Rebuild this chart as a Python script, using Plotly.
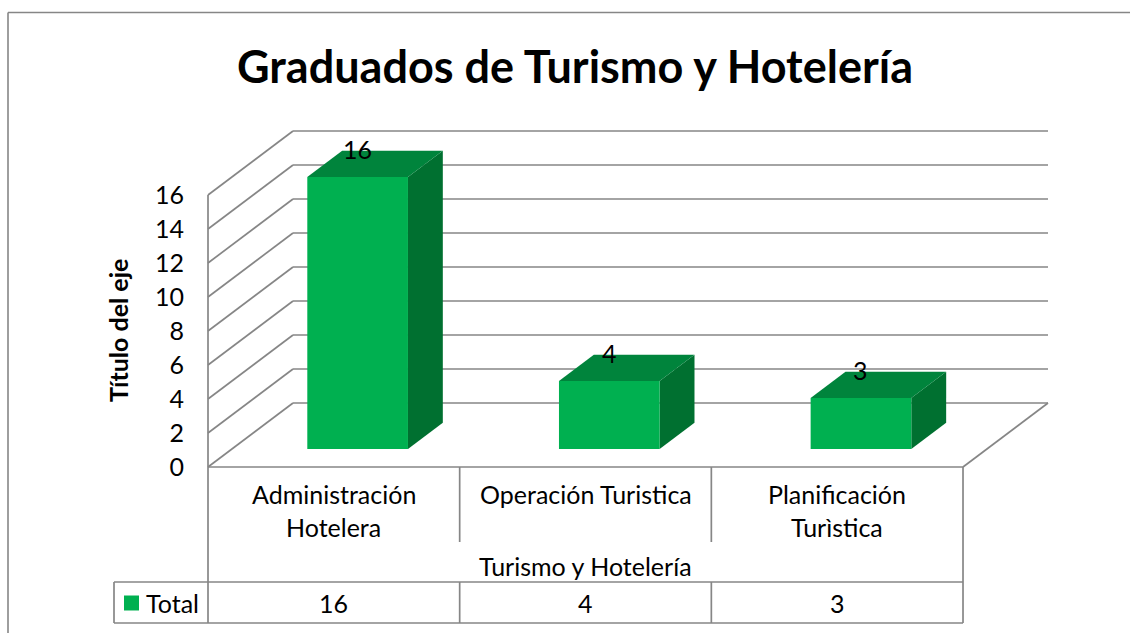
import plotly.graph_objects as go

# ---------------- data ----------------
categories = ["Administración<br>Hotelera", "Operación Turistica", "Planificación<br>Turìstica"]
values = [16, 4, 3]
group_label = "Turismo y Hotelería"
series_name = "Total"
y_ticks = [0, 2, 4, 6, 8, 10, 12, 14, 16]
chart_title = "Graduados de Turismo y Hotelería"
y_title = "Título del eje"

# ---------------- geometry / style ----------------
W, H = 1130, 633
X0_PX = 208.0      # front-left corner of the category axis (px)
CAT_PX = 251.67    # width of one category (px)
Y0_PX = 467.0      # front floor (value 0) (px)
UNIT_PX = 17.0     # px per value unit
DEPTH_DX_PX = 85.0
DEPTH_DY_PX = 64.0

DX = DEPTH_DX_PX / CAT_PX
DY = DEPTH_DY_PX / UNIT_PX
BAR_Z0 = 0.28
BAR_DZ = 0.41
BAR_W = 0.40

GRID = "rgb(134,134,134)"
FRONT = "rgb(0,176,80)"
TOP = "rgb(0,132,60)"
SIDE = "rgb(0,112,48)"
FONT = "Lato"
TXT = 25


def dx(px):
    return (px - X0_PX) / CAT_PX


def dy(py):
    return (Y0_PX - py) / UNIT_PX


n = len(categories)
ymax = max(y_ticks)

fig = go.Figure()

# ---------- walls, gridlines, table lines ----------
gx, gy = [], []


def seg(x1, y1, x2, y2):
    gx.extend([x1, x2, None])
    gy.extend([y1, y2, None])


for v in y_ticks:
    seg(DX, v + DY, n + DX, v + DY)
    seg(0, v, DX, v + DY)
seg(n, 0, n + DX, DY)

tbl_bottom = dy(623)
sep_bottom = dy(542)
tot_top = dy(582)
seg(0, ymax, 0, tbl_bottom)
seg(0, 0, n, 0)
for i in range(1, n):
    seg(i, 0, i, sep_bottom)
    seg(i, tot_top, i, tbl_bottom)
seg(n, 0, n, tbl_bottom)
seg(dx(114), tot_top, n, tot_top)
seg(dx(114), tbl_bottom, n, tbl_bottom)
seg(dx(114), tot_top, dx(114), tbl_bottom)

fig.add_trace(go.Scatter(x=gx, y=gy, mode="lines", line=dict(color=GRID, width=1.7),
                         hoverinfo="skip", showlegend=False))

# ---------- 3D bars ----------
for i, v in enumerate(values):
    c = i + 0.5 + BAR_Z0 * DX
    xl, xr = c - BAR_W / 2, c + BAR_W / 2
    yb = BAR_Z0 * DY
    yt = v + BAR_Z0 * DY
    ox, oy = BAR_DZ * DX, BAR_DZ * DY
    # side
    fig.add_trace(go.Scatter(x=[xr, xr, xr + ox, xr + ox, xr], y=[yb, yt, yt + oy, yb + oy, yb],
                             fill="toself", fillcolor=SIDE, mode="lines", line=dict(width=0, color=SIDE),
                             hoverinfo="skip", showlegend=False))
    # top
    fig.add_trace(go.Scatter(x=[xl, xr, xr + ox, xl + ox, xl], y=[yt, yt, yt + oy, yt + oy, yt],
                             fill="toself", fillcolor=TOP, mode="lines", line=dict(width=0, color=TOP),
                             hoverinfo="skip", showlegend=False))
    # front
    fig.add_trace(go.Scatter(x=[xl, xr, xr, xl, xl], y=[yb, yb, yt, yt, yb],
                             fill="toself", fillcolor=FRONT, mode="lines", line=dict(width=0, color=FRONT),
                             hoverinfo="text", text=f"{v}", showlegend=False))
    # data label
    fig.add_annotation(x=c, y=yt + oy, text=str(v), showarrow=False, yanchor="middle", yshift=2,
                       font=dict(family=FONT, size=TXT, color="black"))

# legend key in the table
fig.add_trace(go.Scatter(x=[dx(131.5)], y=[dy(603)], mode="markers",
                         marker=dict(symbol="square", size=15, color=FRONT),
                         hoverinfo="skip", showlegend=False))
fig.add_annotation(x=dx(144), y=dy(603), text=series_name, showarrow=False, xanchor="left",
                   yanchor="middle", font=dict(family=FONT, size=TXT, color="black"))

# table text
for i, (cat, v) in enumerate(zip(categories, values)):
    for k, line in enumerate(cat.split("<br>")):
        fig.add_annotation(x=i + 0.5, y=dy(494 + 33 * k), text=line, showarrow=False,
                           yanchor="middle", font=dict(family=FONT, size=TXT, color="black"))
    fig.add_annotation(x=i + 0.5, y=dy(603), text=str(v), showarrow=False, yanchor="middle",
                       font=dict(family=FONT, size=TXT, color="black"))
fig.add_annotation(x=n / 2, y=dy(566), text=group_label, showarrow=False, yanchor="middle",
                   font=dict(family=FONT, size=TXT, color="black"))

# axis title
fig.add_annotation(x=dx(118), y=ymax / 2, text=y_title, textangle=-90, showarrow=False,
                   font=dict(family=FONT, size=25, color="black", weight=700))

# chart title
fig.add_annotation(xref="paper", yref="paper", x=575 / W, y=1 - 66 / H, text=chart_title,
                   showarrow=False, yanchor="middle",
                   font=dict(family=FONT, size=45, color="black", weight=700))

# outer border
fig.add_shape(type="line", xref="paper", yref="paper", x0=8 / W, x1=1.0, y0=1 - 12.5 / H, y1=1 - 12.5 / H,
              line=dict(color=GRID, width=1.6))
fig.add_shape(type="line", xref="paper", yref="paper", x0=8 / W, x1=8 / W, y0=0, y1=1 - 12.5 / H,
              line=dict(color=GRID, width=1.6))

fig.update_layout(
    width=W, height=H, autosize=False,
    margin=dict(l=0, r=0, t=0, b=0),
    paper_bgcolor="white", plot_bgcolor="white",
    xaxis=dict(domain=[0, 1], range=[dx(0), dx(W)], visible=False, fixedrange=True),
    yaxis=dict(range=[dy(H), dy(0)], anchor="free", position=X0_PX / W,
               tickvals=y_ticks, ticktext=[str(t) for t in y_ticks], showgrid=False, zeroline=False,
               showline=False, ticks="", ticklabelstandoff=24,
               tickfont=dict(family=FONT, size=TXT, color="black"), fixedrange=True),
    showlegend=False,
)

fig.write_html("out.html", config={"displayModeBar": False},
               post_script="document.body.style.margin='0';document.body.style.overflow='hidden';")
